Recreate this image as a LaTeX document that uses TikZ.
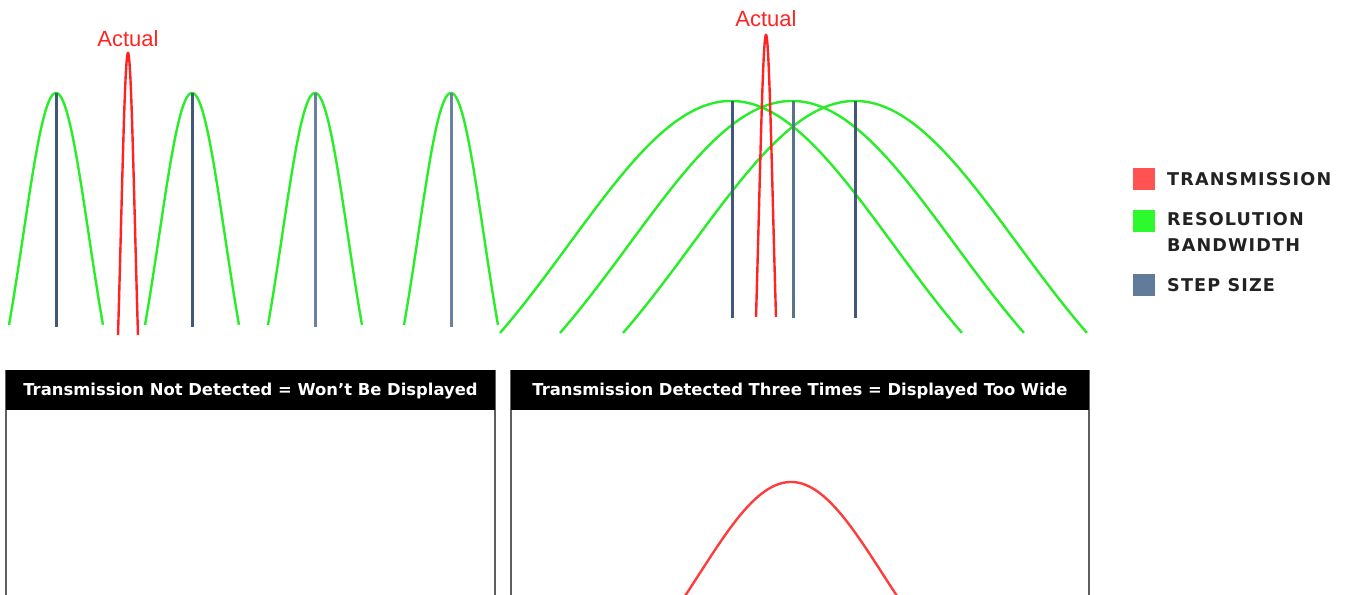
\documentclass[tikz,border=0pt]{standalone}
\usepackage{fontspec}
\newfontfamily\labelfont{Liberation Sans}
\newfontfamily\legendfont[LetterSpace=6.5]{DejaVu Sans}
\newfontfamily\headfont{DejaVu Sans}

\definecolor{rbw}{RGB}{40,238,40}
\definecolor{sig}{RGB}{255,36,36}
\definecolor{sigsoft}{RGB}{255,60,60}
\definecolor{stepdark}{RGB}{66,88,120}
\definecolor{steplight}{RGB}{105,130,160}
\definecolor{legred}{RGB}{255,82,82}
\definecolor{leggreen}{RGB}{44,250,44}
\definecolor{legblue}{RGB}{96,124,154}
\definecolor{frame}{RGB}{95,95,95}

% bell-shaped response: centre x, peak y, half width, height, style
\newcommand\bellcurve[5]{%
  \draw[#5] plot[domain=-1:1,samples=81,smooth]
    ({#1+#3*\x},{#2+#4*1.5635*(1-exp(-\x*\x/0.98))});}

\tikzset{
  rbwline/.style={rbw, line width=2.4pt},
  sigline/.style={sig, line width=2.4pt},
  stepline/.style={line width=3pt},
  actual/.style={text=sig, font=\labelfont\fontsize{22}{25}\selectfont, inner sep=0pt},
  legsq/.style={minimum width=22pt, minimum height=22pt, inner sep=0pt, draw=none},
  legtxt/.style={anchor=west, inner sep=0pt, align=left, text={rgb,255:red,34;green,34;blue,34},
    font=\legendfont\bfseries\fontsize{17.6}{26}\selectfont},
  panel/.style={draw=frame, line width=2pt, fill=white, anchor=north west, inner sep=0pt},
  header/.style={fill=black, text=white, anchor=north, inner sep=0pt, text depth=2pt,
    font=\headfont\bfseries\fontsize{16.4}{19}\selectfont},
}

\begin{document}
\begin{tikzpicture}[x=1pt,y=-1pt]
\useasboundingbox[fill=white] (0,0) rectangle (1351,594);

% ---- narrow resolution bandwidth: the signal falls between steps ----
\bellcurve{56}{93}{47}{232}{rbwline}
\bellcurve{192}{93}{47}{232}{rbwline}
\bellcurve{315}{93}{47}{232}{rbwline}
\bellcurve{451}{93}{47}{232}{rbwline}
\coordinate (s1t) at (56,93);  \coordinate (s1b) at (56,327);
\coordinate (s2t) at (192,93); \coordinate (s2b) at (192,327);
\coordinate (s3t) at (315,93); \coordinate (s3b) at (315,327);
\coordinate (s4t) at (451,93); \coordinate (s4b) at (451,327);
\draw[stepline, stepdark] (s1t) -- (s1b);
\draw[stepline, stepdark] (s2t) -- (s2b);
\draw[stepline, steplight] (s3t) -- (s3b);
\draw[stepline, steplight] (s4t) -- (s4b);
\bellcurve{128}{53}{10}{282}{sigline}
\node[actual] (actL) at (128,39) {Actual};

% ---- wide resolution bandwidth: the signal is caught three times ----
\bellcurve{731}{101}{231}{232}{rbwline}
\bellcurve{792}{101}{232}{232}{rbwline}
\bellcurve{855}{101}{232}{232}{rbwline}
\coordinate (w1t) at (732,101); \coordinate (w1b) at (732,318);
\coordinate (w2t) at (793,101); \coordinate (w2b) at (793,318);
\coordinate (w3t) at (855,101); \coordinate (w3b) at (855,318);
\draw[stepline, stepdark] (w1t) -- (w1b);
\draw[stepline, stepdark!85!white] (w2t) -- (w2b);
\draw[stepline, stepdark] (w3t) -- (w3b);
\bellcurve{766}{35}{10}{282}{sigline}
\node[actual] (actR) at (766,19) {Actual};

% ---- legend ----
\node[legsq, fill=legred]   (sqT) at (1144,179) {};
\node[legsq, fill=leggreen] (sqR) at (1144,221) {};
\node[legsq, fill=legblue]  (sqS) at (1144,285) {};
\node[legtxt] (txtT) at (1167,179) {TRANSMISSION};
\node[legtxt] (txtR) at (1167,232) {RESOLUTION\\BANDWIDTH};
\node[legtxt] (txtS) at (1167,285) {STEP SIZE};

% ---- display panels ----
\node[panel, minimum width=489pt, minimum height=260pt] (pL) at (5,370) {};
\node[header, minimum width=489pt, minimum height=40pt] (hL) at (pL.north)
  {Transmission Not Detected = Won’t Be Displayed};
\node[panel, minimum width=578pt, minimum height=260pt] (pR) at (510,370) {};
\node[header, minimum width=578pt, minimum height=40pt] (hR) at (pR.north)
  {Transmission Detected Three Times = Displayed Too Wide};
\draw[sigsoft, line width=2.4pt] plot[domain=-106:106, samples=81, smooth]
  ({791+\x},{482+235*(1-exp(-(\x/130.1)*(\x/130.1)))});
\end{tikzpicture}
\end{document}
